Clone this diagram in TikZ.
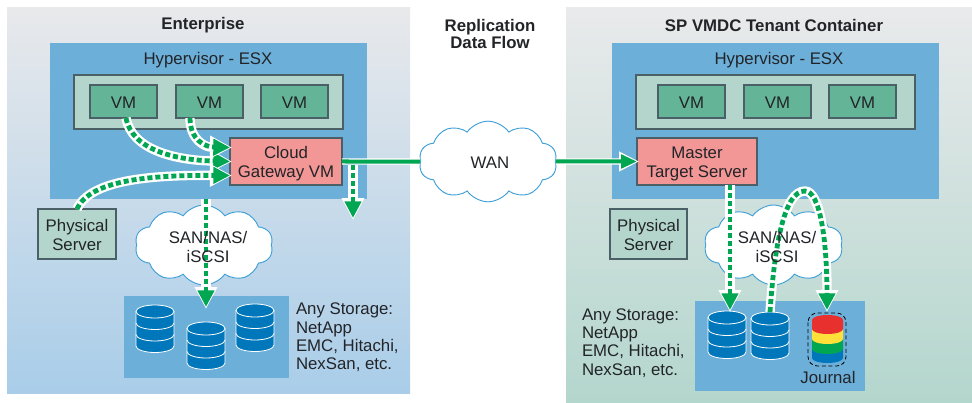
\documentclass[tikz,border=0pt]{standalone}
\usepackage{fontspec}
\setmainfont{Liberation Sans}
\usetikzlibrary{shapes.symbols,arrows.meta,calc}
\definecolor{hyp}{HTML}{6CAFD9}
\definecolor{band}{HTML}{B3D5CC}
\definecolor{vmfill}{HTML}{64B497}
\definecolor{salmon}{HTML}{F29796}
\definecolor{edge}{HTML}{4A5F66}
\definecolor{flowg}{HTML}{00A651}
\definecolor{diskb}{HTML}{0077BB}
\definecolor{cloudb}{HTML}{3FA0D8}
\definecolor{ink}{HTML}{222428}
\definecolor{jred}{HTML}{E8312F}
\definecolor{jyel}{HTML}{FFE03A}
\newcommand{\bx}[7]{%
  \pgfmathsetmacro{\cxx}{(#3+#5)/2}\pgfmathsetmacro{\cyy}{(#4+#6)/2}%
  \pgfmathsetmacro{\www}{(#5-#3)*0.75}\pgfmathsetmacro{\hhh}{(#6-#4)*0.75}%
  \node[boxbase,#2,minimum width=\www pt,minimum height=\hhh pt] (#1) at (\cxx,\cyy) {\raisebox{0pt}[\dimexpr\height+4.4pt\relax]{\begin{tabular}{@{}c@{}}#7\end{tabular}}};}
\newcommand{\dsk}[3]{% cx, top, name
  \pgfmathsetmacro{\ct}{#2+6.5}%
  \foreach \k in {3,2,1}{%
    \pgfmathsetmacro{\yy}{\ct+\k*11.5}\pgfmathsetmacro{\yt}{\ct+(\k-1)*11.5}%
    \path[diskseg] (#1-19,\yt) -- (#1-19,\yy) arc[start angle=180,end angle=360,x radius=19,y radius=-6.5] -- (#1+19,\yt) -- cycle;}
  \path[diskseg] (#1,\ct) ellipse[x radius=19,y radius=6.5];
  \coordinate (#3) at (#1,#2);}
\newcommand{\jseg}[3]{% top y, bottom y, colour
  \fill[#3] (812,#1) -- (812,#2) arc[start angle=180,end angle=360,x radius=15.5,y radius=-5] -- (843,#1) -- cycle;}
\tikzset{
  x=0.75pt,y=-0.75pt,
  boxbase/.style={rectangle,inner sep=0pt,outer sep=0pt,align=center,text=ink,font=\fontsize{12.6}{14.25}\selectfont},
  hypbox/.style={fill=hyp},
  bandbox/.style={fill=band,draw=edge,line width=0.8pt},
  vmbox/.style={fill=vmfill,draw=edge,line width=0.8pt},
  redbox/.style={fill=salmon,draw=edge,line width=0.8pt},
  diskseg/.style={fill=diskb,draw=white,line width=0.6pt},
  cloudn/.style={cloud,cloud puffs=10,cloud puff arc=110,aspect=1.75,fill=white,draw=cloudb,line width=0.7pt,inner sep=0pt},
  txt/.style={inner sep=0pt,outer sep=0pt,align=center,text=ink,font=\fontsize{12.6}{14.25}\selectfont},
  ttl/.style={inner sep=0pt,outer sep=0pt,align=center,text=ink,font=\fontsize{12.6}{13.5}\selectfont\bfseries},
  lst/.style={inner sep=0pt,outer sep=0pt,align=left,anchor=north west,text=ink,font=\fontsize{12.6}{13.75}\selectfont},
  flow/.style={flowg,line width=3.6pt,dash pattern=on 3.8pt off 2.2pt,
    preaction={draw=white,solid,line width=7pt,shorten >=-1.5pt,-{Triangle[length=16.5pt,width=16pt]}},
    -{Triangle[length=12.5pt,width=12pt]}},
  wire/.style={flowg,line width=3pt,preaction={draw=white,line width=4.6pt}},
  wirea/.style={flowg,line width=3pt,
    preaction={draw=white,line width=4.6pt,shorten >=-1.5pt,-{Triangle[length=15pt,width=14pt]}},
    -{Triangle[length=12pt,width=10pt]}},
}
\begin{document}
\begin{tikzpicture}
\useasboundingbox (0,0) rectangle (972,403);
% panels
\bx{entp}{top color={rgb,255:red,232;green,233;blue,235},bottom color={rgb,255:red,169;green,205;blue,233}}{7}{8}{410}{393}{}
\bx{sppl}{top color={rgb,255:red,233;green,234;blue,236},bottom color={rgb,255:red,179;green,214;blue,205}}{566}{8}{972}{403}{}
\node[ttl] (entt) at (203,25.5) {Enterprise};
\node[ttl] (spt) at (774,25.5) {SP VMDC Tenant Container};
\node[ttl] (rep) at (490,34) {Replication\\[-0.6pt]Data Flow};
% left
\bx{hypl}{hypbox}{50}{43}{367}{199}{}
\node[txt] (hypt) at (208,60.5) {Hypervisor - ESX};
\bx{bandl}{bandbox}{74}{75}{343}{129}{}
\bx{vma}{vmbox}{90}{85}{157}{118}{VM}
\bx{vmb}{vmbox}{176}{85}{243}{118}{VM}
\bx{vmc}{vmbox}{261}{85}{328}{118}{VM}
\bx{gw}{redbox}{230}{138}{342}{185}{Cloud\\Gateway VM}
\bx{psl}{bandbox}{38}{209}{116}{259}{Physical\\Server}
\bx{stl}{hypbox}{124}{296}{289}{378}{}
\node[cloudn,minimum width=103.5pt,minimum height=60pt] (sanl) at (204,245) {};
\dsk{155}{305}{d1}
\dsk{206}{322}{d2}
\dsk{255}{304}{d3}
\node[lst] (anyl) at (296,303) {Any Storage:\\NetApp\\EMC, Hitachi,\\NexSan, etc.};
% right
\bx{hypr}{hypbox}{612}{43}{939}{199}{}
\node[txt] (hyprt) at (779,60.5) {Hypervisor - ESX};
\bx{bandr}{bandbox}{636}{75}{915}{129}{}
\bx{vmd}{vmbox}{658}{85}{725}{118}{VM}
\bx{vme}{vmbox}{744}{85}{811}{118}{VM}
\bx{vmf}{vmbox}{829}{85}{896}{118}{VM}
\bx{mts}{redbox}{637}{138}{757}{185}{Master\\Target Server}
\bx{psr}{bandbox}{610}{209}{687}{259}{Physical\\Server}
\bx{str}{hypbox}{695}{301}{865}{391}{}
\node[cloudn,minimum width=104pt,minimum height=60pt] (sanr) at (773.5,245) {};
\dsk{727}{311}{d4}
\dsk{770}{312}{d5}
\coordinate (d4t) at (730,310);
\coordinate (d6) at (827,310);
\draw[black,densely dashed,line width=0.6pt,rounded corners=7pt] (808,313) rectangle (846,366);
\jseg{349}{358}{diskb}
\jseg{339}{349}{flowg}
\jseg{329}{339}{jyel}
\jseg{320}{329}{jred}
\fill[jred] (827.5,320) ellipse[x radius=15.5,y radius=5];
\node[txt] (jt) at (828,377) {Journal};
\node[lst] (anyr) at (582,308.5) {Any Storage:\\NetApp\\EMC, Hitachi,\\NexSan, etc.};
% WAN
\node[cloudn,minimum width=103.5pt,minimum height=60.5pt] (wan) at (488,161.5) {};
% connectors
\draw[flow] (vma.south) ++(2.5,0) .. controls (132,150) and (175,160) .. (gw.west);
\draw[flow] (vmb.south) ++(-19.5,0) .. controls (190,140) and (205,147) .. ([yshift=10.5pt]gw.west);
\draw[flow] (psl.north) .. controls (90,180) and (150,175) .. ([yshift=-10.5pt]gw.west);
\draw[wire] (gw.east) -- (wan.west);
\draw[wirea] (wan.east) -- (mts.west);
\coordinate (gwo) at (353,165);
\coordinate (gwd) at (353,218);
\draw[flow] (gwo) -- (gwd);
\coordinate (sano) at (206,199);
\coordinate (sane) at (206,307);
\draw[flow] (sano) -- (sane);
\coordinate (mo) at (730,185);
\draw[flow] (mo) -- (d4t);
\coordinate (apex) at (805,191);
\draw[flow] (d5) .. controls (775,240) and (785,191) .. (apex) .. controls (820,191) and (827,240) .. (d6);
% cloud text
\node[txt] (wt) at (490,163) {WAN};
\node[txt] (slt) at (208,247) {SAN/NAS/\\iSCSI};
\node[txt] (srt) at (777,247) {SAN/NAS/\\iSCSI};
\end{tikzpicture}
\end{document}
